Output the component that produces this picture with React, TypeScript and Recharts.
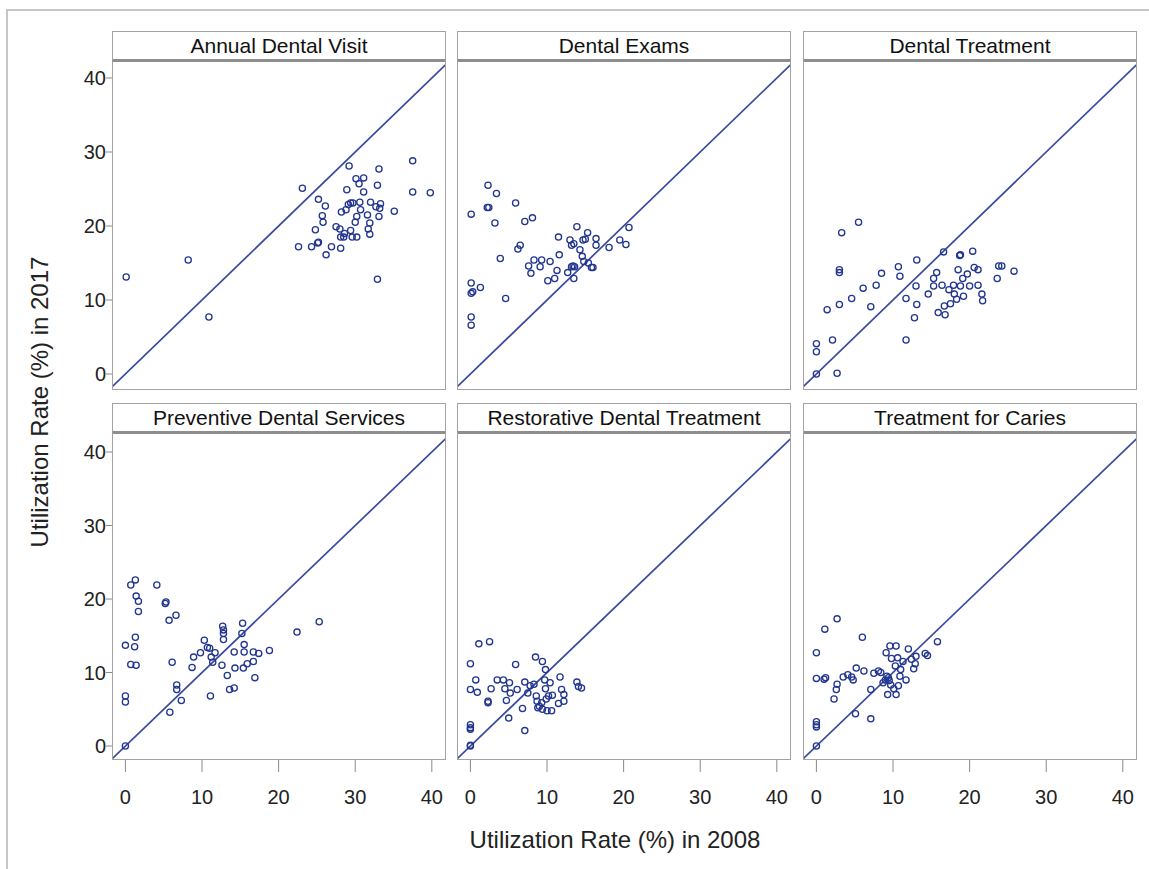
import React from 'react';
import { ScatterChart, Scatter, XAxis, YAxis, ReferenceLine } from 'recharts';

// 2008 vs 2017 utilization rate (%), one [x2008, y2017] pair per state
const annualDentalVisit = [
  [0.1, 13.1], [8.2, 15.4], [10.9, 7.7], [23.1, 25.1], [22.6, 17.2], [24.3, 17.2], [25.1, 17.7], [25.2, 17.8],
  [24.8, 19.5], [25.2, 23.6], [25.7, 21.4], [25.8, 20.5], [26.1, 22.7], [26.2, 16.1], [26.9, 17.2], [27.5, 19.9],
  [28.0, 19.6], [28.1, 18.5], [28.1, 17.0], [28.2, 21.9], [28.5, 18.5], [28.6, 19.0], [28.8, 22.2], [28.9, 24.9],
  [29.1, 22.9], [29.2, 28.1], [29.4, 23.1], [29.7, 23.1], [29.4, 19.4], [29.6, 18.5], [30.0, 20.5], [30.1, 26.4],
  [30.2, 18.5], [30.2, 21.3], [30.5, 25.7], [30.6, 23.2], [30.7, 22.2], [31.1, 26.5], [31.1, 24.6], [31.6, 21.5],
  [31.7, 19.6], [31.9, 20.4], [31.9, 18.9], [32.0, 23.2], [32.7, 22.6], [32.9, 25.5], [32.9, 12.8], [33.1, 27.7],
  [33.1, 21.3], [33.2, 22.4], [33.3, 23.0], [35.1, 22.0], [37.5, 28.8], [37.5, 24.6], [39.8, 24.5],
];

const dentalExams = [
  [0.1, 21.6], [2.3, 25.5], [3.4, 24.4], [2.2, 22.5], [2.4, 22.5], [5.9, 23.1], [3.2, 20.4], [7.1, 20.6],
  [8.1, 21.1], [6.2, 16.9], [6.5, 17.4], [3.9, 15.6], [0.1, 12.3], [0.1, 10.9], [0.3, 11.1], [1.3, 11.7],
  [4.6, 10.2], [0.1, 7.7], [0.1, 6.6], [7.6, 14.6], [7.9, 13.6], [8.3, 15.4], [9.1, 14.5], [9.3, 15.4],
  [10.4, 15.2], [10.1, 12.6], [11.0, 12.9], [11.3, 14.0], [11.5, 18.5], [11.6, 16.1], [12.7, 13.7], [13.0, 18.1],
  [13.2, 17.4], [13.5, 17.6], [13.2, 14.5], [13.4, 14.6], [13.6, 14.5], [13.5, 12.9], [13.9, 19.9], [14.3, 16.8],
  [14.6, 15.9], [14.7, 18.1], [14.8, 15.2], [15.0, 18.2], [15.3, 19.1], [15.4, 15.0], [15.8, 14.4], [16.0, 14.4],
  [16.4, 18.3], [16.4, 17.4], [18.1, 17.1], [19.5, 18.1], [20.3, 17.5], [20.7, 19.8],
];

const dentalTreatment = [
  [0, 0], [0, 3.0], [0, 4.1], [2.7, 0.1], [2.1, 4.6], [1.4, 8.7], [3.0, 9.4], [4.6, 10.2],
  [7.1, 9.1], [6.1, 11.6], [7.8, 12.0], [8.5, 13.6], [3.0, 14.1], [3.0, 13.7], [3.3, 19.1], [5.5, 20.5],
  [10.7, 14.5], [10.9, 13.2], [11.7, 10.2], [11.7, 4.6], [12.8, 7.6], [13.1, 15.4], [13.1, 9.4], [13.0, 11.9],
  [14.6, 10.8], [15.3, 12.9], [15.3, 11.9], [15.7, 13.7], [15.9, 8.3], [16.4, 12.0], [16.6, 16.5], [16.7, 9.2],
  [16.8, 8.0], [17.3, 11.4], [17.5, 9.5], [17.9, 12.0], [18.0, 10.8], [18.3, 10.1], [18.5, 14.1], [18.7, 16.0],
  [18.8, 16.1], [18.8, 11.9], [19.1, 12.9], [19.2, 10.5], [19.7, 13.5], [20.0, 11.9], [20.4, 16.6], [20.6, 14.4],
  [21.1, 14.1], [21.1, 12.0], [21.6, 10.8], [21.7, 9.9], [23.6, 12.9], [23.8, 14.6], [24.2, 14.6], [25.8, 13.9],
];

const preventiveServices = [
  [0, 0], [0, 6.8], [0, 6.0], [0, 13.7], [1.2, 13.5], [1.3, 14.8], [0.7, 11.1], [1.4, 11.0],
  [0.7, 21.9], [1.3, 22.6], [1.4, 20.4], [1.7, 19.7], [1.7, 18.3], [4.1, 21.9], [5.2, 19.4], [5.3, 19.6],
  [5.7, 17.1], [6.6, 17.8], [5.8, 4.6], [6.1, 11.4], [6.7, 8.3], [6.7, 7.7], [7.3, 6.2], [8.7, 10.7],
  [8.9, 12.1], [9.8, 12.7], [10.3, 14.4], [10.7, 13.4], [11.0, 13.3], [11.1, 6.8], [11.2, 12.1], [11.4, 11.4],
  [11.7, 12.7], [12.6, 11.0], [12.7, 16.3], [12.8, 15.8], [12.8, 15.3], [12.8, 14.5], [13.3, 9.6], [13.6, 7.7],
  [14.2, 7.9], [14.2, 12.8], [14.3, 10.6], [15.3, 16.7], [15.2, 15.3], [15.5, 13.8], [15.5, 12.8], [15.4, 10.6],
  [15.9, 11.2], [16.7, 12.8], [16.7, 11.5], [16.9, 9.3], [17.4, 12.6], [18.8, 13.0], [22.4, 15.5], [25.3, 16.9],
];

const restorativeTreatment = [
  [0, 0], [0, 0.1], [0, 2.9], [0, 2.5], [0, 2.3], [0, 11.2], [0, 7.7], [0.7, 9.0],
  [0.9, 7.3], [1.1, 13.9], [2.5, 14.2], [2.3, 6.1], [2.3, 5.9], [2.7, 7.8], [3.5, 9.0], [4.3, 9.0],
  [4.5, 7.8], [4.7, 6.2], [5.0, 3.8], [5.1, 8.6], [5.2, 7.2], [5.9, 11.1], [6.1, 7.7], [6.8, 5.1],
  [7.1, 2.1], [7.1, 8.7], [7.5, 7.2], [7.8, 8.2], [8.3, 8.4], [8.5, 12.1], [8.6, 6.8], [8.7, 6.1],
  [8.8, 5.2], [9.0, 5.4], [9.3, 5.9], [9.4, 5.0], [9.4, 11.5], [9.7, 9.0], [9.8, 10.4], [9.8, 7.8],
  [9.9, 6.4], [10.0, 4.8], [10.2, 6.8], [10.4, 8.6], [10.6, 4.8], [10.7, 6.9], [11.5, 5.8], [11.7, 9.4],
  [11.9, 7.7], [12.2, 7.0], [12.2, 6.1], [13.9, 8.7], [14.1, 8.1], [14.5, 7.9],
];

const cariesTreatment = [
  [0, 0], [0, 3.3], [0, 2.9], [0, 2.6], [0, 12.7], [0, 9.2], [1.0, 9.1], [1.2, 9.3],
  [1.1, 15.9], [2.7, 17.3], [2.3, 6.4], [2.6, 7.7], [2.7, 8.4], [3.5, 9.4], [4.1, 9.7], [4.6, 9.4],
  [4.8, 9.0], [5.1, 4.4], [5.2, 10.6], [6.0, 14.8], [6.2, 10.2], [7.1, 7.7], [7.1, 3.7], [7.5, 9.9],
  [8.1, 10.2], [8.4, 10.0], [8.7, 8.6], [9.0, 9.0], [9.1, 12.7], [9.2, 9.5], [9.3, 7.0], [9.4, 9.3],
  [9.6, 13.6], [9.5, 8.9], [9.7, 8.3], [9.8, 11.9], [10.1, 7.8], [10.3, 10.9], [10.4, 13.6], [10.4, 7.0],
  [10.6, 12.0], [10.7, 8.2], [10.9, 9.5], [11.0, 10.4], [11.3, 11.5], [11.7, 9.0], [12.0, 13.2], [12.4, 11.8],
  [12.7, 10.5], [12.9, 11.2], [13.0, 12.2], [14.2, 12.6], [14.5, 12.3], [15.8, 14.2],
];

const panelTitles = [
  'Annual Dental Visit', 'Dental Exams', 'Dental Treatment',
  'Preventive Dental Services', 'Restorative Dental Treatment', 'Treatment for Caries',
];
const panelData = [
  annualDentalVisit, dentalExams, dentalTreatment,
  preventiveServices, restorativeTreatment, cariesTreatment,
];
const axisTicks = [0, 10, 20, 30, 40];
const diagonal = [{ x: -1.75, y: -1.75 }, { x: 41.85, y: 41.85 }];

const FONT = '"Liberation Sans", Arial, Helvetica, sans-serif';
const MARK = '#22368f';
const LINE = '#3a4a9e';
const BORDER = '#a3a3a3';

const colLeft = [112, 457, 803];
const plotW = 334;
const headerTop = [31, 403];
const plotTop = [62, 434];
const plotH = [328, 326];
const yDomains: [number, number][] = [[-2.16, 42.16], [-1.9, 42.45]];
const xDomain: [number, number] = [-1.75, 41.85];
const Y_AXIS_W = 60;
const X_AXIS_H = 60;

const OpenCircle = (props: any) => (
  <circle cx={props.cx} cy={props.cy} r={3.1} fill="none" stroke={MARK} strokeWidth={1.3} />
);

const Panel = ({ index }: { index: number }) => {
  const row = Math.floor(index / 3);
  const col = index % 3;
  const showY = col === 0;
  const showX = row === 1;
  const w = plotW + (showY ? Y_AXIS_W : 0);
  const h = plotH[row] + (showX ? X_AXIS_H : 0);
  const data = panelData[index].map(([x, y]) => ({ x, y }));

  return (
    <>
      <div
        style={{
          position: 'absolute',
          left: colLeft[col],
          top: headerTop[row],
          width: plotW,
          height: plotTop[row] - headerTop[row],
          boxSizing: 'border-box',
          border: `1.5px solid ${BORDER}`,
          borderBottom: '3px solid #8e8e8e',
          fontFamily: FONT,
          fontSize: 21,
          color: '#111',
          textAlign: 'center',
          lineHeight: `${plotTop[row] - headerTop[row] - 4}px`,
          background: '#fff',
        }}
      >
        {panelTitles[index]}
      </div>
      <div style={{ position: 'absolute', left: colLeft[col] - (showY ? Y_AXIS_W : 0), top: plotTop[row] }}>
        <ScatterChart width={w} height={h} margin={{ top: 0, right: 0, bottom: 0, left: 0 }}>
          <XAxis
            type="number"
            dataKey="x"
            domain={xDomain}
            ticks={axisTicks}
            allowDataOverflow
            hide={!showX}
            height={X_AXIS_H}
            axisLine={false}
            tickSize={12}
            tickMargin={18}
            tickLine={{ stroke: '#8a8a8a' }}
            tick={{ fill: '#222', fontSize: 20, fontFamily: FONT }}
          />
          <YAxis
            type="number"
            dataKey="y"
            domain={yDomains[row]}
            ticks={axisTicks}
            allowDataOverflow
            hide={!showY}
            width={Y_AXIS_W}
            axisLine={false}
            tickSize={6}
            tickMargin={0}
            tickLine={{ stroke: '#8a8a8a' }}
            tick={{ fill: '#222', fontSize: 20, fontFamily: FONT }}
          />
          <ReferenceLine segment={diagonal} stroke={LINE} strokeWidth={1.7} ifOverflow="hidden" />
          <Scatter data={data} shape={OpenCircle} isAnimationActive={false} />
        </ScatterChart>
      </div>
      <div
        style={{
          position: 'absolute',
          left: colLeft[col],
          top: plotTop[row] - 1,
          width: plotW,
          height: plotH[row] + 1,
          boxSizing: 'border-box',
          border: `1.5px solid ${BORDER}`,
          borderTop: 'none',
          pointerEvents: 'none',
        }}
      />
    </>
  );
};

export default function App() {
  return (
    <div style={{ position: 'absolute', left: 0, top: 0, width: 1149, height: 869, background: '#fff', overflow: 'hidden' }}>
      <div style={{ position: 'absolute', left: 6, top: 9, width: 1143, height: 860, borderLeft: '2px solid #c6c6c6', borderTop: '2px solid #c6c6c6' }} />
      {panelTitles.map((_, i) => (
        <Panel key={i} index={i} />
      ))}
      <div
        style={{
          position: 'absolute',
          left: 40 - 200,
          top: 402 - 15,
          width: 400,
          height: 30,
          lineHeight: '30px',
          textAlign: 'center',
          transform: 'rotate(-90deg)',
          fontFamily: FONT,
          fontSize: 24,
          color: '#222',
        }}
      >
        Utilization Rate (%) in 2017
      </div>
      <div
        style={{
          position: 'absolute',
          left: 615 - 200,
          top: 840 - 15,
          width: 400,
          height: 30,
          lineHeight: '30px',
          textAlign: 'center',
          fontFamily: FONT,
          fontSize: 24,
          color: '#222',
        }}
      >
        Utilization Rate (%) in 2008
      </div>
    </div>
  );
}
